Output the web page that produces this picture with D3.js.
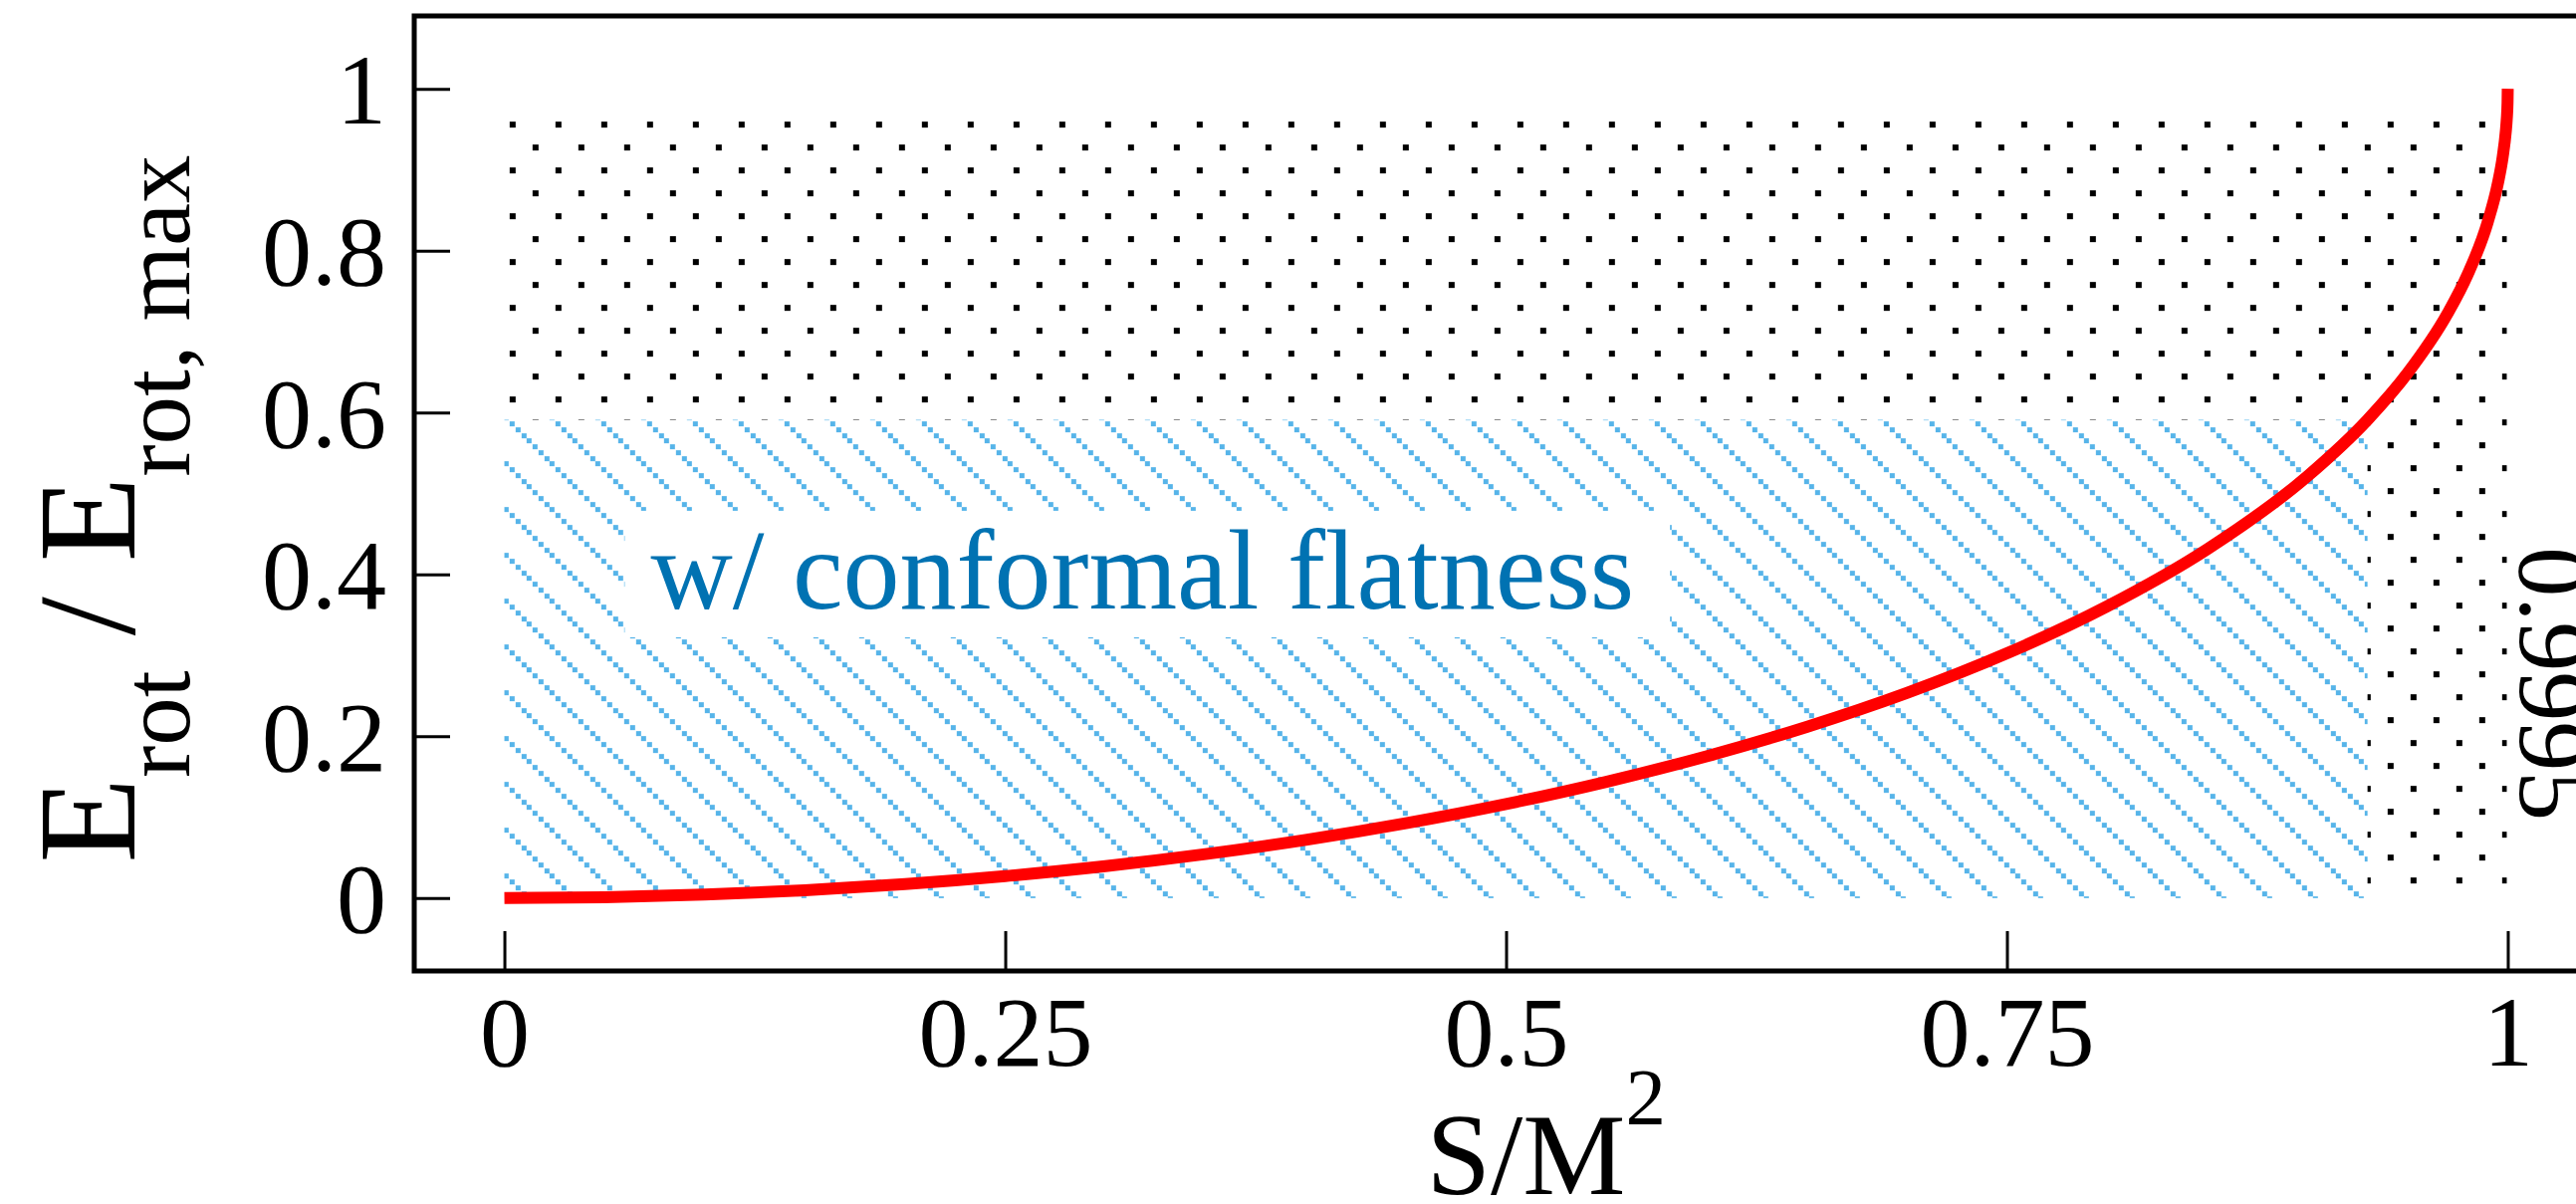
<!DOCTYPE html>
<html>
<head>
<meta charset="utf-8">
<script src="https://cdn.jsdelivr.net/npm/d3@7"></script>
<style>
  html, body { margin: 0; padding: 0; background: #fff; }
  svg { display: block; }
  text { font-family: "Liberation Serif", "Times New Roman", Times, serif; }
</style>
</head>
<body>
<div id="chart"></div>
<script>
// Dimensionless spin S/M^2 and normalised rotational energy E_rot / E_rot,max
const spin = [0, 0.05, 0.1, 0.15, 0.2, 0.25, 0.3, 0.35, 0.4, 0.45, 0.5, 0.55, 0.6, 0.65,
  0.7, 0.75, 0.8, 0.85, 0.9, 0.93, 0.95, 0.97, 0.98, 0.99, 0.995, 0.9975, 0.999, 0.9995, 0.9999, 1];
const energyRatio = [0, 0.0011, 0.0043, 0.0097, 0.0173, 0.0272, 0.0395, 0.0544, 0.0720, 0.0926,
  0.1163, 0.1437, 0.1752, 0.2115, 0.2534, 0.3024, 0.3605, 0.4311, 0.5213, 0.591, 0.6487,
  0.7225, 0.7707, 0.8353, 0.8823, 0.9162, 0.9466, 0.9621, 0.9830, 1];

// Shaded domains: [spin max, energy max]
const dottedRegion = [0.9995, 0.9621];
const conformalRegion = [0.93, 0.591];

// Annotations
const regionLabel = "w/ conformal flatness";
const regionLabelPos = [0.073, 0.358];
const spinLimitLabel = "0.9995";
const spinLimitPos = [1.006, 0.434];

// Axis ticks
const xTicks = [0, 0.25, 0.5, 0.75, 1];
const xTickLabels = ["0", "0.25", "0.5", "0.75", "1"];
const yTicks = [0, 0.2, 0.4, 0.6, 0.8, 1];
const yTickLabels = ["0", "0.2", "0.4", "0.6", "0.8", "1"];

const W = 2587, H = 1209;
const svg = d3.select("#chart").append("svg")
  .attr("width", W).attr("height", H)
  .attr("viewBox", `0 0 ${W} ${H}`);

const x = d3.scaleLinear().domain([-0.045, 1.045]).range([416, 2609]);
const y = d3.scaleLinear().domain([-0.09, 1.09]).range([975, 16]);

// Fill patterns
const defs = svg.append("defs");
const dotPat = defs.append("pattern")
  .attr("id", "dots").attr("patternUnits", "userSpaceOnUse")
  .attr("width", 46).attr("height", 46)
  .attr("x", x(0) + 5.3).attr("y", y(dottedRegion[1]) + 2.2);
dotPat.selectAll("rect").data([[0, 0], [23, 23]]).join("rect")
  .attr("x", d => d[0]).attr("y", d => d[1])
  .attr("width", 6).attr("height", 6).attr("fill", "#000")
  .attr("shape-rendering", "crispEdges");

const hatchPat = defs.append("pattern")
  .attr("id", "hatch").attr("patternUnits", "userSpaceOnUse")
  .attr("width", 46).attr("height", 46)
  .attr("x", x(0) + 5.3).attr("y", y(conformalRegion[1]) + 1.6);
hatchPat.selectAll("rect").data(d3.range(8)).join("rect")
  .attr("x", i => Math.round(i * 5.75)).attr("y", i => Math.round(i * 5.75))
  .attr("width", 5).attr("height", 5).attr("fill", "#56B4E9")
  .attr("shape-rendering", "crispEdges");

// Dotted region
svg.append("rect")
  .attr("x", x(0)).attr("y", y(dottedRegion[1]))
  .attr("width", x(dottedRegion[0]) - x(0))
  .attr("height", y(0) - y(dottedRegion[1]))
  .attr("fill", "url(#dots)");

// Hatched region (opaque white underneath)
const hatchRect = {
  x: x(0), y: y(conformalRegion[1]),
  w: x(conformalRegion[0]) - x(0), h: y(0) - y(conformalRegion[1])
};
svg.append("rect")
  .attr("x", hatchRect.x).attr("y", hatchRect.y)
  .attr("width", hatchRect.w).attr("height", hatchRect.h)
  .attr("fill", "#fff");
svg.append("rect")
  .attr("x", hatchRect.x).attr("y", hatchRect.y)
  .attr("width", hatchRect.w).attr("height", hatchRect.h)
  .attr("fill", "url(#hatch)");

// Region label with white box
const labelG = svg.append("g");
const labelBox = labelG.append("rect").attr("fill", "#fff");
const labelText = labelG.append("text")
  .attr("x", x(regionLabelPos[0])).attr("y", y(regionLabelPos[1]))
  .attr("font-size", 114).attr("fill", "#0072B2")
  .text(regionLabel);
const bb = labelText.node().getBBox();
labelBox.attr("x", bb.x - 26).attr("y", bb.y + 4)
  .attr("width", bb.width + 62).attr("height", bb.height);

// Curve
const line = d3.line()
  .x((d, i) => x(spin[i]))
  .y(d => y(d))
  .curve(d3.curveMonotoneX);
svg.append("path")
  .datum(energyRatio)
  .attr("d", line)
  .attr("fill", "none")
  .attr("stroke", "#FF0000")
  .attr("stroke-width", 12)
  .attr("stroke-linejoin", "round");

// Rotated spin-limit label
svg.append("text")
  .attr("transform", `translate(${x(spinLimitPos[0])},${y(spinLimitPos[1])}) rotate(90)`)
  .attr("font-size", 100).attr("fill", "#000")
  .text(spinLimitLabel);

// Axes (ticks pointing inward)
const xAxis = d3.axisBottom(x)
  .tickValues(xTicks)
  .tickFormat((d, i) => xTickLabels[i])
  .tickSize(-40).tickPadding(95);
const gx = svg.append("g").attr("transform", `translate(0,${y.range()[0]})`).call(xAxis);
gx.select(".domain").remove();
gx.selectAll(".tick line").attr("stroke", "#000").attr("stroke-width", 3);
gx.selectAll(".tick text").attr("font-size", 100).attr("fill", "#000")
  .attr("font-family", "Liberation Serif, Times New Roman, serif")
  .attr("dy", 0).attr("y", 95);

const yAxis = d3.axisLeft(y)
  .tickValues(yTicks)
  .tickFormat((d, i) => yTickLabels[i])
  .tickSize(-36).tickPadding(28);
const gy = svg.append("g").attr("transform", `translate(${x.range()[0]},0)`).call(yAxis);
gy.select(".domain").remove();
gy.selectAll(".tick line").attr("stroke", "#000").attr("stroke-width", 3);
gy.selectAll(".tick text").attr("font-size", 100).attr("fill", "#000")
  .attr("font-family", "Liberation Serif, Times New Roman, serif")
  .attr("dy", "0.34em");

// Frame
svg.append("rect")
  .attr("x", x.range()[0]).attr("y", y.range()[1])
  .attr("width", x.range()[1] - x.range()[0])
  .attr("height", y.range()[0] - y.range()[1])
  .attr("fill", "none").attr("stroke", "#000").attr("stroke-width", 5);

// Axis titles
const xTitle = svg.append("text")
  .attr("x", x(0.5) - 80).attr("y", 1199)
  .attr("font-size", 116).attr("fill", "#000");
xTitle.append("tspan").text("S/M");
xTitle.append("tspan").attr("dy", -70).attr("font-size", 81).text("2");

const yTitle = svg.append("text")
  .attr("transform", `translate(135,511) rotate(-90)`)
  .attr("text-anchor", "middle")
  .attr("font-size", 140).attr("fill", "#000");
yTitle.append("tspan").text("E");
yTitle.append("tspan").attr("dy", 55).attr("font-size", 97).text("rot");
yTitle.append("tspan").attr("dy", -55).text("\u00a0/\u00a0E");
yTitle.append("tspan").attr("dy", 55).attr("font-size", 97).text("rot,\u00a0max");
</script>
</body>
</html>
